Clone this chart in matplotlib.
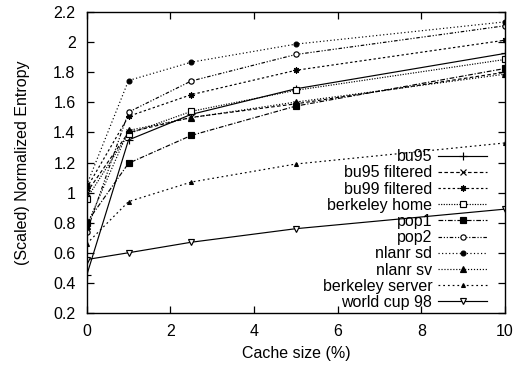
import matplotlib.pyplot as plt
import numpy as np

plt.rcParams['font.family'] = ['Liberation Sans', 'DejaVu Sans']

# cache sizes (%) at which each trace was measured
cache_size = [0, 1, 2.5, 5, 10]

labels = ['bu95', 'bu95 filtered', 'bu99 filtered', 'berkeley home', 'pop1',
          'pop2', 'nlanr sd', 'nlanr sv', 'berkeley server', 'world cup 98']

bu95 = [0.45, 1.35, 1.52, 1.69, 1.925]
bu95_filtered = [1.00, 1.40, 1.50, 1.59, 1.80]
bu99_filtered = [1.03, 1.507, 1.651, 1.813, 2.013]
berkeley_home = [0.96, 1.391, 1.54, 1.68, 1.885]
pop1 = [0.80, 1.195, 1.38, 1.575, 1.825]
pop2 = [0.74, 1.535, 1.742, 1.918, 2.109]
nlanr_sd = [1.05, 1.745, 1.867, 1.987, 2.135]
nlanr_sv = [0.78, 1.413, 1.498, 1.602, 1.787]
berkeley_server = [0.66, 0.94, 1.07, 1.19, 1.33]
world_cup_98 = [0.555, 0.60, 0.67, 0.76, 0.89]

series = [bu95, bu95_filtered, bu99_filtered, berkeley_home, pop1,
          pop2, nlanr_sd, nlanr_sv, berkeley_server, world_cup_98]

styles = [
    dict(ls='-', marker='+', ms=5.5, mfc='k'),
    dict(ls=(0, (3, 2)), marker='x', ms=4, mfc='k'),
    dict(ls=(0, (2, 2)), marker=(8, 2, 0), ms=4.5, mfc='k'),
    dict(ls=(0, (1, 1.2)), marker='s', ms=3.8, mfc='white'),
    dict(ls=(0, (4, 1.5, 1, 1.5)), marker='s', ms=3.8, mfc='k'),
    dict(ls=(0, (3, 1.5, 1, 1.5, 1, 1.5)), marker='o', ms=3.8, mfc='white'),
    dict(ls=(0, (1, 2)), marker='o', ms=3.5, mfc='k'),
    dict(ls=(0, (1, 1.5)), marker='^', ms=4, mfc='k'),
    dict(ls=(0, (1.5, 2.5)), marker='^', ms=2.8, mfc='k'),
    dict(ls='-', marker='v', ms=4, mfc='white'),
]

fs = 11.5

fig = plt.figure(figsize=(5.21, 3.66), dpi=100)
ax = fig.add_axes([0.1664, 0.145, 0.8029, 0.822])

for vals, lab, st in zip(series, labels, styles):
    ax.plot(cache_size, vals, color='k', lw=0.85, mec='k', mew=0.85,
            label=lab, **st)

ax.set_xlim(0, 10)
ax.set_ylim(0.2, 2.2)
ax.set_xticks(np.arange(0, 11, 2))
ax.set_yticks(np.arange(0.2, 2.21, 0.2))
ax.set_yticklabels(['0.2', '0.4', '0.6', '0.8', '1', '1.2', '1.4', '1.6',
                    '1.8', '2', '2.2'])
ax.tick_params(direction='in', length=5, width=0.9, top=True, right=True,
               labelsize=fs, pad=8)
for sp in ax.spines.values():
    sp.set_linewidth(1.0)

ax.set_xlabel('Cache size (%)', fontsize=fs, labelpad=5)
ax.set_ylabel('(Scaled) Normalized Entropy', fontsize=fs, labelpad=17)

ax.legend(loc='lower right', bbox_to_anchor=(0.957, 0.01), frameon=False,
          markerfirst=False, fontsize=fs, handlelength=3.05,
          handletextpad=0.37, labelspacing=0.075, borderpad=0,
          borderaxespad=0)

fig.savefig('out.png', dpi=100)
